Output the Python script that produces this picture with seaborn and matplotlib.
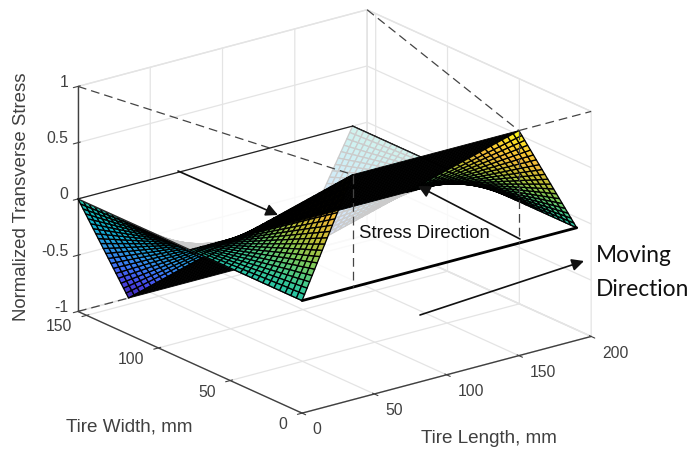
import numpy as np
import matplotlib
matplotlib.use('Agg')
import matplotlib.pyplot as plt
from matplotlib.colors import LinearSegmentedColormap, Normalize
import seaborn as sns

# tire length stations, mm
ramp_up_x = [0, 1.75, 3.5, 5.25, 7, 8.75, 10.5, 12.25, 14, 15.75, 17.5, 19.25, 21, 22.75, 24.5, 26.25, 28, 29.75, 31.5, 33.25, 35]
plateau_x = [35, 150]
ramp_down_x = [150, 152, 154, 156, 158, 160, 162, 164, 166, 168, 170, 172, 174, 176, 178, 180, 182, 184, 186, 188, 190]

# stress along the length, same length as the stations
ramp_up_stress = [0, .05, .1, .15, .2, .25, .3, .35, .4, .45, .5, .55, .6, .65, .7, .75, .8, .85, .9, .95, 1]
plateau_stress = [1, 1]
ramp_down_stress = [1, .95, .9, .85, .8, .75, .7, .65, .6, .55, .5, .45, .4, .35, .3, .25, .2, .15, .1, .05, 0]

# tire width stations, mm, and the stress factor across the width
width_y = [0, 3.9, 7.8, 11.7, 15.6, 19.5, 23.4, 27.3, 31.2, 35.1, 39, 42.9, 46.8, 50.7, 54.6, 58.5, 62.4, 66.3, 70.2, 74.1, 78,
           81.9, 85.8, 89.7, 93.6, 97.5, 101.4, 105.3, 109.2, 113.1, 117, 120.9, 124.8, 128.7, 132.6, 136.5, 140.4, 144.3, 148.2, 152.1, 156]
width_factor = [1, .95, .9, .85, .8, .75, .7, .65, .6, .55, .5, .45, .4, .35, .3, .25, .2, .15, .1, .05, 0,
                -.05, -.1, -.15, -.2, -.25, -.3, -.35, -.4, -.45, -.5, -.55, -.6, -.65, -.7, -.75, -.8, -.85, -.9, -.95, -1]

x_ticks = [0, 50, 100, 150, 200]
y_ticks = [0, 50, 100, 150]
z_ticks = [-1, -0.5, 0, 0.5, 1]
z_tick_labels = ['-1', '-0.5', '0', '0.5', '1']

# MATLAB parula anchors
parula_colors = ['#3e26a8', '#4845e8', '#3b78f6', '#2b97e0', '#14aed2', '#12bdb9', '#3ac893',
                 '#80cb58', '#c1bc32', '#f1b93a', '#fbd42c', '#f9fb15']

PX_W, PX_H = 695, 452

sns.set_theme(style='white')
plt.rcParams['font.family'] = ['Liberation Sans', 'DejaVu Sans']

parula = LinearSegmentedColormap.from_list('parula', parula_colors)
norm = Normalize(-1, 1)

fig = plt.figure(figsize=[PX_W / 100, PX_H / 100], dpi=100, facecolor='white')
ax = fig.add_subplot(projection='3d', proj_type='ortho', computed_zorder=False)

# square axes, placed in pixels
side = 560
cx, cy = 327, 220
ax.set_position([(cx - side / 2) / PX_W, 1 - (cy + side / 2) / PX_H, side / PX_W, side / PX_H])
ax.view_init(elev=20.3, azim=-127.4)
ax.set_box_aspect((361, 366, 238), zoom=0.99)
ax.set_xlim(0, 200, view_margin=0)
ax.set_ylim(0, 156, view_margin=0)
ax.set_zlim(-1, 1, view_margin=0)
ax.patch.set_alpha(0)

mid = width_factor.index(0)
for xs, profile in [(ramp_up_x, ramp_up_stress), (plateau_x, plateau_stress), (ramp_down_x, ramp_down_stress)]:
    X, Y = np.meshgrid(xs, width_y)
    Z = np.outer(width_factor, profile)
    if len(xs) == 2:
        kw = dict(color='black', edgecolor='black', shade=False, linewidth=0.6)
    else:
        kw = dict(cmap=parula, norm=norm, edgecolor='black', linewidth=0.95, shade=False)
    # part below the white sheet, then part above it
    ax.plot_surface(X[mid:], Y[mid:], Z[mid:], rstride=1, cstride=1, zorder=2, **kw)
    ax.plot_surface(X[:mid + 1], Y[:mid + 1], Z[:mid + 1], rstride=1, cstride=1, zorder=6, **kw)

# reference sheet at zero stress
sheet_x = [0, 190]
sheet_y = [0, 156]
SX, SY = np.meshgrid(sheet_x, sheet_y)
ax.plot_surface(SX, SY, np.zeros_like(SX, dtype=float), color='white', alpha=0.8, shade=False, linewidth=0, zorder=4)

ax.plot(sheet_x, [0, 0], [0, 0], color='black', lw=2.0, zorder=7)
ax.plot(sheet_x, [156, 156], [0, 0], color='#222222', lw=0.9, zorder=5)
ax.plot([190, 190], sheet_y, [0, 0], color='#222222', lw=0.9, zorder=5)
ax.plot([0, 0], sheet_y, [0, 0], color='#222222', lw=0.9, zorder=5)

# dashed construction lines
dash = dict(color='#444444', lw=0.9, ls=(0, (7, 4)), zorder=8)
ax.plot([0, 35], [156, 0], [1, 1], **dash)
ax.plot([200, 150], [156, 0], [1, 1], **dash)
ax.plot([150, 200], [0, 0], [1, 1], **dash)
ax.plot([35, 35], [0, 0], [1, 0], **dash)
ax.plot([150, 150], [0, 0], [1, 0], **dash)
ax.plot([0, 35], [156, 156], [-1, -1], **dash)

ax.set_xticks(x_ticks)
ax.set_yticks(y_ticks)
ax.set_zticks(z_ticks)
ax.set_zticklabels(z_tick_labels)

for axis in (ax.xaxis, ax.yaxis, ax.zaxis):
    axis.set_pane_color((1, 1, 1, 1))
    axis.pane.set_edgecolor('#e4e4e4')
    axis.line.set_color('#404040')
    axis.line.set_linewidth(1.0)
    axis._axinfo['grid'].update(color='#e4e4e4', linewidth=0.9)
    axis._axinfo['tick'].update(inward_length=0.15, outward_length=0.15, linewidth={True: 0.8, False: 0.8})
    axis.set_rotate_label(False)
ax.tick_params(axis='x', colors='#404040', labelsize=11.3, pad=2)
ax.tick_params(axis='y', colors='#404040', labelsize=11.3, pad=2.5)
ax.tick_params(axis='z', colors='#404040', labelsize=11.3, pad=-4)

for tick in ax.xaxis.get_major_ticks():
    tick.label1.set_ha('left')
    tick.label1.set_va('center')
for tick in ax.yaxis.get_major_ticks():
    tick.label1.set_ha('right')
    tick.label1.set_va('baseline')
for tick in ax.zaxis.get_major_ticks():
    tick.label1.set_ha('right')
    tick.label1.set_va('baseline')

ax.set_xlabel('Tire Length, mm', fontsize=13.6, color='#404040', labelpad=19)
ax.set_ylabel('Tire Width, mm', fontsize=13.6, color='#404040', labelpad=23)
ax.set_zlabel('Normalized Transverse Stress', fontsize=13.4, color='#404040', rotation=90, labelpad=2)

arrow = dict(arrowstyle='-|>', color='#111111', lw=1.2, mutation_scale=18, shrinkA=0, shrinkB=0)
for start, end in [((178, 172), (278, 216)), ((520, 240), (418, 187)), ((420, 316), (584, 262))]:
    ax.annotate('', xy=(end[0], PX_H - end[1]), xytext=(start[0], PX_H - start[1]),
                xycoords='figure pixels', textcoords='figure pixels', arrowprops=arrow, zorder=9)

fig.text(359 / PX_W, 1 - 234 / PX_H, 'Stress Direction', fontsize=13.4, color='#111111', va='center', ha='left')
fig.text(596 / PX_W, 1 - 255 / PX_H, 'Moving', fontsize=16.4, family='Lato', color='#111111', va='center', ha='left')
fig.text(596 / PX_W, 1 - 289 / PX_H, 'Direction', fontsize=16.4, family='Lato', color='#111111', va='center', ha='left')

fig.savefig('out.png', dpi=100)
